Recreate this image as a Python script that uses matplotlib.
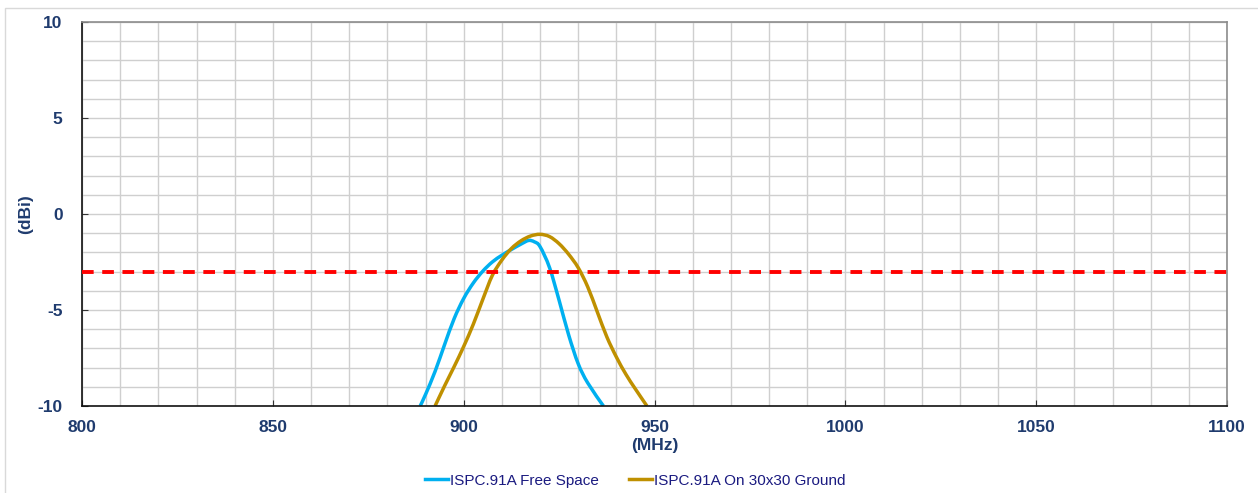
import numpy as np
import matplotlib.pyplot as plt
from matplotlib.patches import Rectangle, PathPatch
from matplotlib.path import Path

plt.rcParams['font.family'] = ['Liberation Sans', 'DejaVu Sans']
plt.rcParams['axes.unicode_minus'] = False

# gain vs frequency (MHz / dBi)
free_freq = [888.6, 890, 892.5, 895, 897.5, 900, 902.5, 905, 907.5, 910, 912.5, 915,
             917, 918.5, 920, 922.5, 925, 927.5, 930, 932.5, 936.6]
free_gain = [-10, -9.4, -8.2, -6.8, -5.45, -4.4, -3.6, -2.98, -2.5, -2.15, -1.85, -1.57,
             -1.38, -1.45, -1.7, -2.8, -4.5, -6.3, -7.8, -8.8, -10]

ground_freq = [892.5, 895, 897.5, 900, 902.5, 905, 907.5, 910, 912.5, 915, 917.5, 920,
               922.5, 925, 927.5, 930, 932.5, 935, 937.5, 940, 942.5, 945, 948]
ground_gain = [-10, -8.95, -7.95, -6.9, -5.75, -4.45, -3.2, -2.4, -1.8, -1.4, -1.15, -1.06,
               -1.18, -1.55, -2.1, -2.8, -3.8, -5.1, -6.4, -7.45, -8.35, -9.12, -10]

limit_db = -3
x_ticks = [800, 850, 900, 950, 1000, 1050, 1100]
y_ticks = [-10, -5, 0, 5, 10]

navy = '#1F3B6E'


def smooth_path(xs, ys):
    # Catmull-Rom style cubic bezier through the points (like a "smoothed line")
    pts = np.column_stack([xs, ys]).astype(float)
    verts = [pts[0]]
    codes = [Path.MOVETO]
    n = len(pts)
    for i in range(n - 1):
        p0 = pts[max(i - 1, 0)]
        p1 = pts[i]
        p2 = pts[i + 1]
        p3 = pts[min(i + 2, n - 1)]
        c1 = p1 + (p2 - p0) / 6.0
        c2 = p2 - (p3 - p1) / 6.0
        verts += [c1, c2, p2]
        codes += [Path.CURVE4] * 3
    return Path(verts, codes)


fig = plt.figure(figsize=(12.58, 4.93), dpi=100)
ax = fig.add_axes([0.0652, 0.1765, 0.9102, 0.779])

# frame around the whole chart
fig.patches.append(Rectangle((0.004, -0.01), 1.0, 0.993, transform=fig.transFigure,
                             fill=False, edgecolor='#d9d9d9', linewidth=1))

for xs, ys, col, name in [(free_freq, free_gain, '#00B0F0', 'ISPC.91A Free Space'),
                          (ground_freq, ground_gain, '#BF9000', 'ISPC.91A On 30x30 Ground')]:
    ax.add_patch(PathPatch(smooth_path(xs, ys), facecolor='none', edgecolor=col,
                           linewidth=2.5, capstyle='butt', zorder=2.5))
    ax.plot([], [], color=col, linewidth=2.5, label=name)

ax.axhline(limit_db, color='#FF0000', linewidth=2.8, linestyle=(0, (3, 2.2)), zorder=3)

ax.set_xlim(800, 1100)
ax.set_ylim(-10, 10)
ax.set_xticks(x_ticks)
ax.set_yticks(y_ticks)
ax.set_xticks(np.arange(800, 1101, 10), minor=True)
ax.set_yticks(np.arange(-10, 11, 1), minor=True)
ax.grid(which='both', color='#cfcfcf', linewidth=1)
ax.set_axisbelow(True)

ax.tick_params(which='major', direction='in', length=4, color='#333333')
ax.tick_params(which='minor', length=0)
ax.tick_params(axis='x', pad=10)
ax.tick_params(axis='y', pad=14)
for lbl in ax.get_xticklabels() + ax.get_yticklabels():
    lbl.set_fontweight('bold')
    lbl.set_fontsize(12.5)
    lbl.set_color(navy)

for side in ['left', 'bottom']:
    ax.spines[side].set_color('#111111')
    ax.spines[side].set_linewidth(1.2)
for side in ['top', 'right']:
    ax.spines[side].set_color('#8c8c8c')
    ax.spines[side].set_linewidth(1.2)

ax.set_xlabel('(MHz)', fontsize=12.5, fontweight='bold', color=navy, labelpad=2)
ax.set_ylabel('(dBi)', fontsize=12.5, fontweight='bold', color=navy, labelpad=3)

fig.legend(loc='center', bbox_to_anchor=(0.505, 0.025), ncol=2, frameon=False,
           handlelength=1.5, handletextpad=0.1, columnspacing=2.0,
           prop={'size': 11}, labelcolor='#1a1a80')

fig.savefig('out.png', dpi=100)
